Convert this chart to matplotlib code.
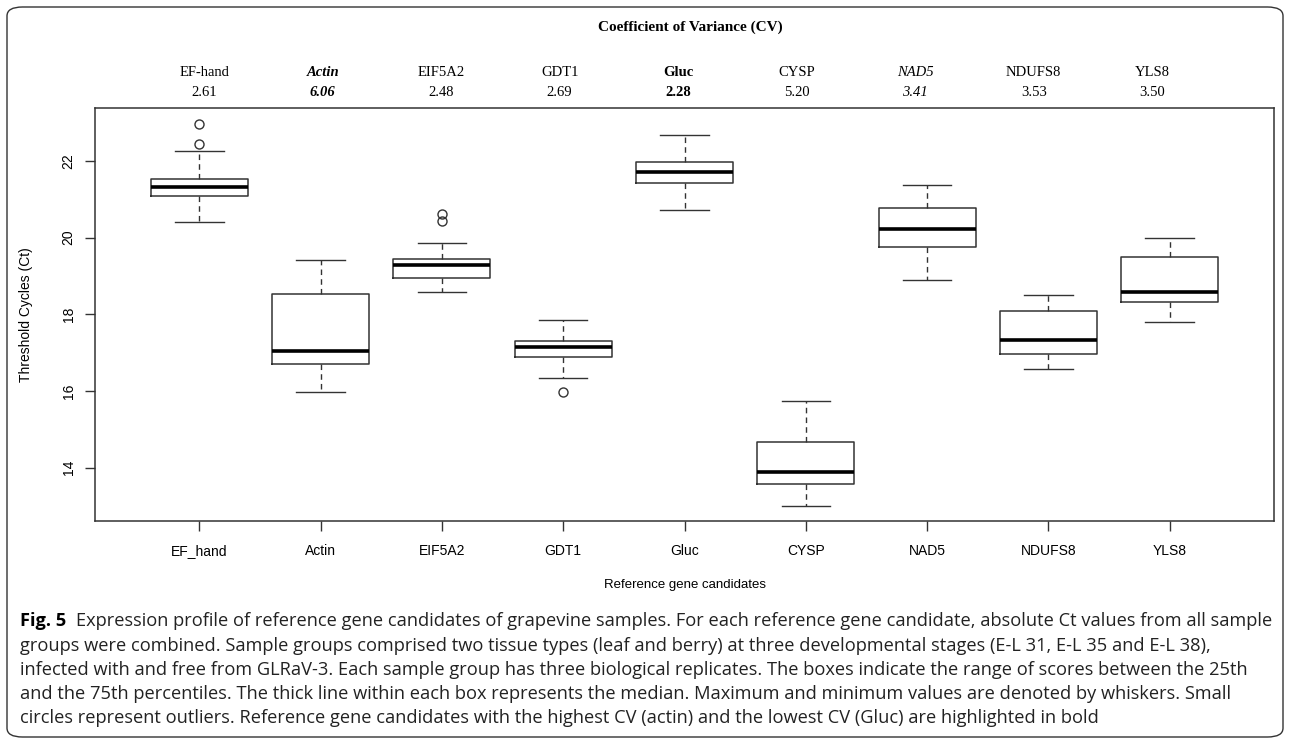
import matplotlib
matplotlib.use("Agg")
import matplotlib.pyplot as plt
from matplotlib.patches import FancyBboxPatch

# gene candidates (x axis) and CV labels shown on top
genes = ["EF_hand", "Actin", "EIF5A2", "GDT1", "Gluc", "CYSP", "NAD5", "NDUFS8", "YLS8"]
cv_names = ["EF-hand", "Actin", "EIF5A2", "GDT1", "Gluc", "CYSP", "NAD5", "NDUFS8", "YLS8"]
cv_values = ["2.61", "6.06", "2.48", "2.69", "2.28", "5.20", "3.41", "3.53", "3.50"]
cv_style = ["normal", "bolditalic", "normal", "normal", "bold", "normal", "italic", "normal", "normal"]

# box statistics (Ct)
whislo = [20.40, 15.97, 18.58, 16.35, 20.73, 13.01, 18.89, 16.57, 17.79]
q1 = [21.08, 16.70, 18.94, 16.88, 21.43, 13.58, 19.75, 16.96, 18.31]
med = [21.32, 17.04, 19.29, 17.16, 21.71, 13.90, 20.23, 17.33, 18.59]
q3 = [21.54, 18.53, 19.45, 17.30, 21.96, 14.68, 20.77, 18.09, 19.50]
whishi = [22.25, 19.42, 19.87, 17.85, 22.67, 15.75, 21.37, 18.50, 19.98]
outliers = [[22.97, 22.44], [], [20.61, 20.44], [15.98], [], [], [], [], []]

caption = [
    "Expression profile of reference gene candidates of grapevine samples. For each reference gene candidate, absolute Ct values from all sample",
    "groups were combined. Sample groups comprised two tissue types (leaf and berry) at three developmental stages (E-L 31, E-L 35 and E-L 38),",
    "infected with and free from GLRaV-3. Each sample group has three biological replicates. The boxes indicate the range of scores between the 25th",
    "and the 75th percentiles. The thick line within each box represents the median. Maximum and minimum values are denoted by whiskers. Small",
    "circles represent outliers. Reference gene candidates with the highest CV (actin) and the lowest CV (Gluc) are highlighted in bold",
]

W, H = 1290, 745
fig = plt.figure(figsize=(W / 100, H / 100), dpi=100)

# outer rounded frame
frame = FancyBboxPatch((7 / W, 8 / H), 1276 / W, 730 / H,
                       boxstyle="round,pad=0,rounding_size=0.012",
                       transform=fig.transFigure, fill=False,
                       edgecolor="#333333", linewidth=1.0)
fig.patches.append(frame)

ax = fig.add_axes([95 / W, 224 / H, 1179 / W, 413 / H])

stats = []
for i in range(len(genes)):
    stats.append(dict(med=med[i], q1=q1[i], q3=q3[i], whislo=whislo[i],
                      whishi=whishi[i], fliers=outliers[i], label=genes[i]))

ax.bxp(stats, positions=range(1, len(genes) + 1), widths=0.8,
       boxprops=dict(color="#333333", linewidth=1.1),
       medianprops=dict(color="black", linewidth=2.6, solid_capstyle="butt"),
       whiskerprops=dict(color="#333333", linewidth=1.0, linestyle=(0, (4, 3))),
       capprops=dict(color="#333333", linewidth=1.0),
       capwidths=0.4,
       flierprops=dict(marker="o", markerfacecolor="none", markeredgecolor="#333333",
                       markersize=6.5, markeredgewidth=1.0))

ax.set_xlim(0.14, 9.86)
ax.set_ylim(12.61, 23.38)
ax.set_yticks([14, 16, 18, 20, 22])
ax.set_yticklabels(["14", "16", "18", "20", "22"], rotation=90, va="center",
                   family="Liberation Sans", fontsize=10)
ax.set_xticks(range(1, len(genes) + 1))
ax.set_xticklabels(genes, family="Liberation Sans", fontsize=10, va="baseline")
ax.tick_params(axis="both", direction="out", length=7, width=1.0, color="#333333", pad=7)
ax.tick_params(axis="x", pad=17.5)
for s in ax.spines.values():
    s.set_color("#333333")
    s.set_linewidth(1.1)

ax.set_ylabel("Threshold Cycles (Ct)", family="Liberation Sans", fontsize=10, labelpad=8)
ax.yaxis.set_label_coords(-62 / 1179, 0.5)
fig.text(685 / W, 1 - 585 / H, "Reference gene candidates", family="Liberation Sans",
         fontsize=9.5, ha="center", va="center")

# CV header
fig.text(690 / W, 1 - 27 / H, "Coefficient of Variance (CV)", family="Liberation Serif",
         fontsize=11, fontweight="bold", ha="center", va="center")
for i in range(len(genes)):
    st = cv_style[i]
    weight = "bold" if "bold" in st else "normal"
    style = "italic" if "italic" in st else "normal"
    xd = 1.04 + i * 0.977
    ax.text(xd, 1 + (108 - 72) / 413, cv_names[i], transform=ax.get_xaxis_transform(),
            family="Liberation Serif", fontsize=10.5, fontweight=weight, fontstyle=style,
            ha="center", va="center")
    ax.text(xd, 1 + (108 - 92) / 413, cv_values[i], transform=ax.get_xaxis_transform(),
            family="Liberation Serif", fontsize=10.5, fontweight=weight, fontstyle=style,
            ha="center", va="center")

# caption, fitted to the measured line width
fig.canvas.draw()
r = fig.canvas.get_renderer()
x0, target = 20, 1248
fs = 11.0
fig_lbl = fig.text(x0 / W, 1 - 621 / H, "Fig. 5", family="Open Sans", fontweight="bold",
                   fontsize=fs, va="center")
probe = fig.text(0, 0, caption[0], family="Open Sans", fontsize=fs)
lbl_w = fig_lbl.get_window_extent(r).width
pw = probe.get_window_extent(r).width
probe.remove()
fs = fs * (target - lbl_w - 10) / pw
fig_lbl.set_fontsize(fs)
lbl_w = fig_lbl.get_window_extent(r).width
ys = [621, 646, 670, 694, 718]
for k, line in enumerate(caption):
    xs = x0 + (lbl_w + 10 if k == 0 else 0)
    fig.text(xs / W, 1 - ys[k] / H, line, family="Open Sans", fontsize=fs,
             va="center", color="#222222")

fig.savefig("out.png", dpi=100)
